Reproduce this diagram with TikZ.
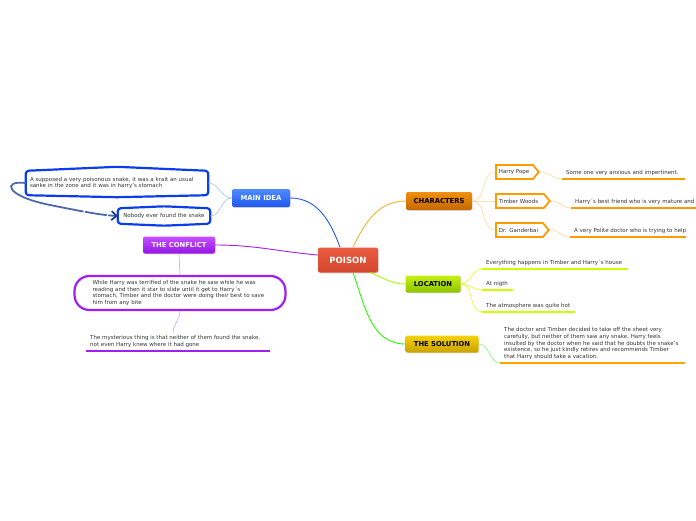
\documentclass[tikz,border=0pt]{standalone}
\usepackage{fontspec}
\setmainfont{DejaVu Sans}
\usetikzlibrary{shapes.symbols,arrows.meta,shadows}

% Colours
\definecolor{poisontop}{HTML}{EA5C41}
\definecolor{poisonbot}{HTML}{D5472E}
\definecolor{ideatop}{HTML}{4F8BFF}
\definecolor{ideabot}{HTML}{2157EE}
\definecolor{ideaborder}{HTML}{0B3DEB}
\definecolor{conftop}{HTML}{C451FF}
\definecolor{confbot}{HTML}{9414E6}
\definecolor{confborder}{HTML}{A11DF2}
\definecolor{chartop}{HTML}{F0900E}
\definecolor{charbot}{HTML}{C46800}
\definecolor{loctop}{HTML}{C8F014}
\definecolor{locbot}{HTML}{8CC400}
\definecolor{soltop}{HTML}{F6D20A}
\definecolor{solbot}{HTML}{C9A200}
\definecolor{castorange}{HTML}{FF9A00}
\definecolor{locline}{HTML}{CCFF00}
\definecolor{loopblue}{HTML}{4A6AA8}
\definecolor{looptip}{HTML}{1A3C8C}
\definecolor{leaftext}{HTML}{333333}

\newcommand\leaffont{\fontsize{5.5}{6.8}\selectfont}
\newcommand\topicfont{\fontsize{6.8}{8}\selectfont\bfseries}
\newcommand\rootfont{\fontsize{8.5}{10}\selectfont\bfseries}

\begin{document}
\begin{tikzpicture}[x=1pt, y=-1pt,
  topic/.style n args={2}{rounded corners=2pt, top color=#1, bottom color=#2,
    draw=none, font=\topicfont, minimum height=17, inner xsep=5pt,
    drop shadow={opacity=0.25, shadow xshift=0.8pt, shadow yshift=-0.8pt}},
  leaf/.style={anchor=south west, inner xsep=4pt, inner ysep=3pt,
    align=left, font=\leaffont, text=leaftext},
  bubbletext/.style={inner xsep=4pt, align=left, font=\leaffont, text=leaftext},
  bubble/.style={draw=ideaborder, line width=2.2pt, rounded corners=3pt},
  cast/.style={signal, signal to=east, signal pointer angle=100, draw=castorange,
    line width=1.8pt, fill=white, anchor=west, align=left, font=\leaffont,
    text=leaftext, inner xsep=3pt, minimum height=14},
  ul/.style={line width=1.8pt, #1},
  twig/.style={line width=0.5pt, #1},
  branch/.style={line width=0.9pt, #1},
  loop arrow/.style={line width=1.8pt, loopblue,
    dash pattern=on 95pt off 1.5pt on 22pt off 1.5pt,
    -{Straight Barb[length=5pt, width=9pt, color=looptip]}}]

\useasboundingbox (0,0) rectangle (696,520);

% Root
\node[topic={poisontop}{poisonbot}, text=white, font=\rootfont,
  minimum width=60, minimum height=25] (poison) at (348,260) {POISON};

% Main topics
\node[topic={ideatop}{ideabot}, text=white, minimum width=58, minimum height=18]
  (main) at (261,198) {MAIN IDEA};
\node[topic={conftop}{confbot}, text=white, minimum width=72]
  (conflict) at (179,245) {THE CONFLICT};
\node[topic={chartop}{charbot}, text=black, minimum width=66, minimum height=18]
  (chars) at (439,201) {CHARACTERS};
\node[topic={loctop}{locbot}, text=black, minimum width=55]
  (loc) at (433,284) {LOCATION};
\node[topic={soltop}{solbot}, text=black, minimum width=73]
  (sol) at (442,344) {THE SOLUTION};

% Root connectors
\draw[branch=ideabot] ([xshift=-8pt]poison.north) to[out=110,in=0] (main.east);
\draw[branch=confborder] ([yshift=5pt]poison.west) to[out=175,in=0] (conflict.east);
\draw[branch=castorange!80] ([xshift=5pt]poison.north) to[out=65,in=180] (chars.west);
\draw[branch=locline!80!green] ([xshift=-8pt]poison.south east) to[out=-20,in=180] (loc.west);
\draw[branch=green!80!lime] ([xshift=5pt]poison.south) to[out=-70,in=180] (sol.west);

% Main idea
\node[bubbletext, text width=174, minimum height=24] (idea1) at (117,183)
  {A supposed a very poisonous snake, it was a krait an usual\\
   sanke in the zone and it was in harry's stomach};
\node[bubbletext, minimum width=92, minimum height=15] (idea2) at (164,216)
  {Nobody ever found the snake};
\draw[bubble] (idea1.south west) -- (idea1.north west) -- ([yshift=4pt]idea1.north)
  -- (idea1.north east) -- (idea1.south east) -- ([yshift=-2pt]idea1.south) -- cycle;
\draw[bubble] (idea2.south west) -- (idea2.north west) -- ([yshift=2pt]idea2.north)
  -- (idea2.north east) -- (idea2.south east) -- ([yshift=-2pt]idea2.south) -- cycle;
\draw[twig=ideatop!60] (main.west) to[out=180,in=0] (idea1.east);
\draw[twig=ideatop!60] (main.west) to[out=180,in=0] (idea2.east);
\draw[loop arrow] (idea1.west) .. controls (2,180) and (5,196) .. (50,205)
  .. controls (80,211) and (100,215) .. (idea2.west);

% The conflict
\node[bubbletext, text width=175, minimum width=211, minimum height=34,
  draw=confborder, line width=2.2pt, rounded corners=15pt] (cbub) at (180,293)
  {While Harry was terrified of the snake he saw while he was\\
   reading and then it star to slide until it get to Harry´s\\
   stomach, Timber and the doctor were doing their best to save\\
   him from any bite};
\node[leaf] (myst) at (86,351)
  {The mysterious thing is that neither of them found the snake,\\
   not even Harry knew where it had gone};
\draw[ul=confborder] (myst.south west) -- ++(184,0);
\draw[twig=confborder!50] (conflict.south) -- (cbub.north);
\draw[twig=confborder!50] (cbub.south) to[out=-90,in=90] ([xshift=-2pt]myst.north);

% Characters
\node[cast, text width=31] (hp) at (495,172) {Harry Pope};
\node[cast, text width=42] (tw) at (495,201) {Timber Woods};
\node[cast, text width=41] (dg) at (495,230) {Dr. Ganderbai};
\node[leaf] (d1) at (562,179) {Some one very anxious and impertinent.};
\node[leaf] (d2) at (571,208) {Harry´s best friend who is very mature and};
\node[leaf] (d3) at (570,237) {A very Polite doctor who is trying to help};
\draw[ul=castorange] (d1.south west) -- ++(123,0);
\draw[ul=castorange] (d2.south west) -- ++(125,0);
\draw[ul=castorange] (d3.south west) -- ++(116,0);
\foreach \c/\d in {hp/d1, tw/d2, dg/d3} {
  \draw[twig=castorange!45] (chars.east) to[out=0,in=180] (\c.west);
  \draw[twig=castorange!45] (\c.east) to[out=0,in=180] (\d.south west);
}

% Location
\node[leaf] (l1) at (482,269) {Everything happens in Timber and Harry´s house};
\node[leaf] (l2) at (482,290) {At nigth};
\node[leaf] (l3) at (482,312) {The atmosphere was quite hot};
\draw[ul=locline] (l1.south west) -- ++(146,0);
\draw[ul=locline] (l2.south west) -- ++(31,0);
\draw[ul=locline] (l3.south west) -- ++(93,0);
\foreach \l in {l1,l2,l3}
  \draw[twig=locline!60!yellow] (loc.east) to[out=0,in=180] (\l.south west);

% The solution
\node[leaf] (s1) at (500,363)
  {The doctor and Timber decided to take off the sheet very\\
   carefully, but neither of them saw any snake, Harry feels\\
   insulted by the doctor when he said that he doubts the snake's\\
   existence, so he just kindly retires and recommends Timber\\
   that Harry should take a vacation.};
\draw[ul=castorange!90!yellow] (s1.south west) -- ++(185,0);
\draw[twig=green!60] (sol.east) to[out=0,in=180] (s1.south west);

\end{tikzpicture}
\end{document}
